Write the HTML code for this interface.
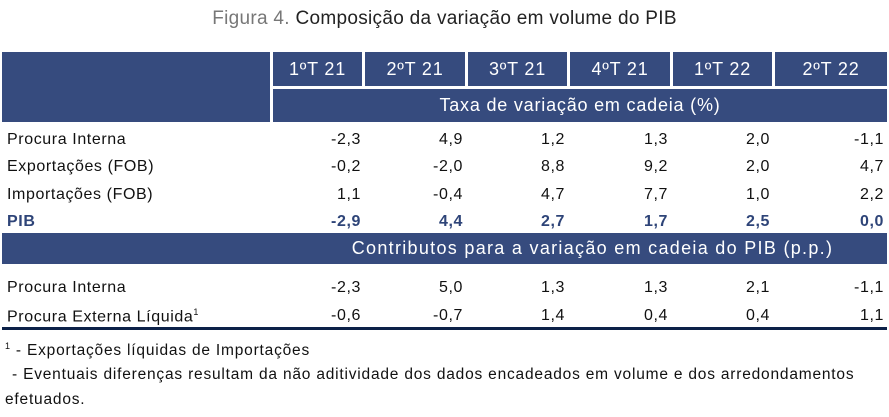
<!DOCTYPE html>
<html><head><meta charset="utf-8"><style>
body{margin:0;width:889px;height:417px;background:#fff;font-family:"Liberation Sans",sans-serif;position:relative;overflow:hidden;color:#111}
div{position:absolute;white-space:nowrap}
.b{background:#364b7e}
.h{color:#fff;font-size:18px;letter-spacing:0.8px;text-align:center;line-height:34px}
.l{left:7px;font-size:16px;letter-spacing:0.6px}
.n{font-size:16px;letter-spacing:0.6px;text-align:right;width:98px}
.pib{color:#2e4478;font-weight:bold}
</style></head><body>
<div style="left:0;width:889px;top:8px;text-align:center;font-size:19px;letter-spacing:0.3px;color:#222"><span style="color:#777">Figura 4.</span> Composição da variação em volume do PIB</div>
<div class="b" style="left:2px;top:52px;width:268px;height:70px"></div>
<div class="b h" style="left:273px;top:52px;width:89px;height:34px">1ºT 21</div>
<div class="b h" style="left:365px;top:52px;width:100px;height:34px">2ºT 21</div>
<div class="b h" style="left:468px;top:52px;width:99px;height:34px">3ºT 21</div>
<div class="b h" style="left:570px;top:52px;width:100px;height:34px">4ºT 21</div>
<div class="b h" style="left:673px;top:52px;width:99px;height:34px">1ºT 22</div>
<div class="b h" style="left:775px;top:52px;width:112px;height:34px">2ºT 22</div>
<div class="b h" style="left:273px;top:89px;width:614px;height:33px;line-height:33px">Taxa de variação em cadeia (%)</div>
<div class="b h" style="left:2px;top:233px;width:885px;height:31px;line-height:31px;letter-spacing:1.3px"><span style="position:relative;left:148px">Contributos para a variação em cadeia do PIB (p.p.)</span></div>
<div style="left:2px;top:327px;width:885px;height:3px;background:#0c2148"></div>

<div class="l" style="top:131px">Procura Interna</div>
<div class="l" style="top:158px">Exportações (FOB)</div>
<div class="l" style="top:186px">Importações (FOB)</div>
<div class="l pib" style="top:213px">PIB</div>
<div class="l" style="top:279px">Procura Interna</div>
<div class="l" style="top:307px">Procura Externa Líquida<sup style="font-size:9px">1</sup></div>

<div id="nums"></div>
<script>
var rows=[[131,["-2,3","4,9","1,2","1,3","2,0","-1,1"]],[158,["-0,2","-2,0","8,8","9,2","2,0","4,7"]],[186,["1,1","-0,4","4,7","7,7","1,0","2,2"]],[213,["-2,9","4,4","2,7","1,7","2,5","0,0"],1],[279,["-2,3","5,0","1,3","1,3","2,1","-1,1"]],[307,["-0,6","-0,7","1,4","0,4","0,4","1,1"]]];
var ends=[361,463,565,668,770,884],h="";
rows.forEach(function(r){r[1].forEach(function(v,i){h+='<div class="n'+(r[2]?' pib':'')+'" style="top:'+r[0]+'px;left:'+(ends[i]-98)+'px">'+v+'</div>';});});
document.getElementById('nums').outerHTML=h;
</script>
<div style="left:5px;top:341px;font-size:15.5px;letter-spacing:0.8px"><sup style="font-size:9px">1</sup> - Exportações líquidas de Importações</div>
<div style="left:12px;top:366px;font-size:15.5px;letter-spacing:0.8px">- Eventuais diferenças resultam da não aditividade dos dados encadeados em volume e dos arredondamentos</div>
<div style="left:5px;top:391px;font-size:15.5px;letter-spacing:0.8px">efetuados.</div>
</body></html>
